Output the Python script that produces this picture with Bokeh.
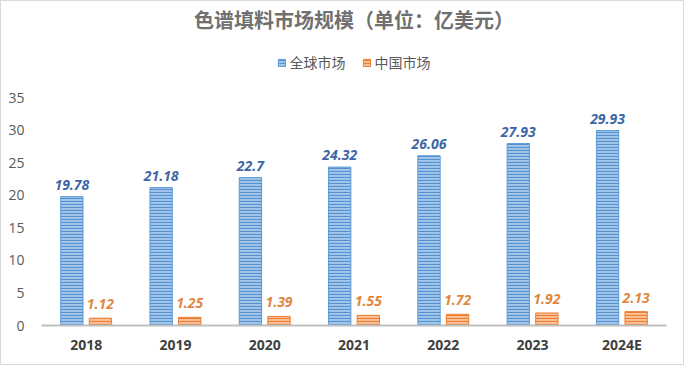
from bokeh.plotting import figure
from bokeh.models import ColumnDataSource, FactorRange, Label, Legend, LegendItem, FixedTicker
from bokeh.transform import dodge
from bokeh.core.properties import value
from bokeh.embed import file_html
from bokeh.resources import INLINE

years = ["2018", "2019", "2020", "2021", "2022", "2023", "2024E"]
global_market = [19.78, 21.18, 22.7, 24.32, 26.06, 27.93, 29.93]
china_market = [1.12, 1.25, 1.39, 1.55, 1.72, 1.92, 2.13]
series_names = ["全球市场", "中国市场"]
title_text = "色谱填料市场规模（单位：亿美元）"
y_ticks = [0, 5, 10, 15, 20, 25, 30, 35]

src = ColumnDataSource(dict(
    year=years,
    g=global_market,
    c=china_market,
    gl=[f"{v:g}" for v in global_market],
    cl=[f"{v:g}" for v in china_market],
))

W, H = 684, 365
p = figure(width=W, height=H, x_range=FactorRange(factors=years, range_padding=0),
           y_range=(0, 49.74), output_backend="svg", toolbar_location=None,
           min_border_left=40, min_border_right=19, min_border_top=0, min_border_bottom=41)
p.background_fill_color = "white"
p.border_fill_color = "white"
p.outline_line_color = None
p.xgrid.grid_line_color = None
p.ygrid.grid_line_color = None
p.styles = {"border": "1px solid #d9d9d9", "box-sizing": "border-box"}

rg = p.vbar(x=dodge("year", -0.16, range=p.x_range), top="g", width=0.25, source=src,
            fill_color="#a3c6ea", line_color="#5b9bd5", line_width=1,
            hatch_pattern="horizontal_line", hatch_color="#5591cf", hatch_scale=3, hatch_weight=1.2)
rc = p.vbar(x=dodge("year", 0.16, range=p.x_range), top="c", width=0.25, source=src,
            fill_color="#f9c29a", line_color="#ed7d31", line_width=1,
            hatch_pattern="horizontal_line", hatch_color="#ed7d31", hatch_scale=3, hatch_weight=1.2)

p.text(x=dodge("year", -0.16, range=p.x_range), y="g", text="gl", source=src,
       text_align="center", text_baseline="bottom", y_offset=-7,
       text_font=value("Open Sans"), text_font_size="14px", text_font_style="bold italic",
       text_color="#3d66a6")
p.text(x=dodge("year", 0.16, range=p.x_range), y="c", text="cl", source=src,
       text_align="center", text_baseline="bottom", y_offset=-9,
       text_font=value("Open Sans"), text_font_size="14px", text_font_style="bold italic",
       text_color="#e0873f")

p.add_layout(Label(x=3.5, y=47.0, text=title_text, text_align="center", text_baseline="middle",
                   text_font="Noto Sans CJK SC", text_font_size="20px", text_font_style="bold",
                   text_color="#707070"))

legend = Legend(items=[LegendItem(label=series_names[0], renderers=[rg]),
                       LegendItem(label=series_names[1], renderers=[rc])],
                location="top_center", orientation="horizontal", margin=47,
                border_line_alpha=0, background_fill_alpha=0,
                label_text_font="Noto Sans CJK SC", label_text_font_size="14px",
                label_text_color="#595959", glyph_width=9, glyph_height=9,
                spacing=16, label_standoff=4, padding=4)
p.add_layout(legend)

p.yaxis.ticker = FixedTicker(ticks=y_ticks)
p.yaxis.axis_line_color = None
p.yaxis.major_tick_line_color = None
p.yaxis.minor_tick_line_color = None
p.yaxis.major_label_standoff = 11
p.yaxis.major_label_text_font = "Open Sans"
p.yaxis.major_label_text_font_size = "14px"
p.yaxis.major_label_text_color = "#595959"

p.xaxis.axis_line_color = "#bfbfbf"
p.xaxis.axis_line_width = 2
p.xaxis.major_tick_line_color = None
p.xaxis.minor_tick_line_color = None
p.xaxis.major_label_standoff = 3
p.xaxis.major_label_text_font = "Open Sans"
p.xaxis.major_label_text_font_size = "14px"
p.xaxis.major_label_text_font_style = "bold"
p.xaxis.major_label_text_color = "#404040"

open("out.html", "w").write(file_html(p, INLINE))
